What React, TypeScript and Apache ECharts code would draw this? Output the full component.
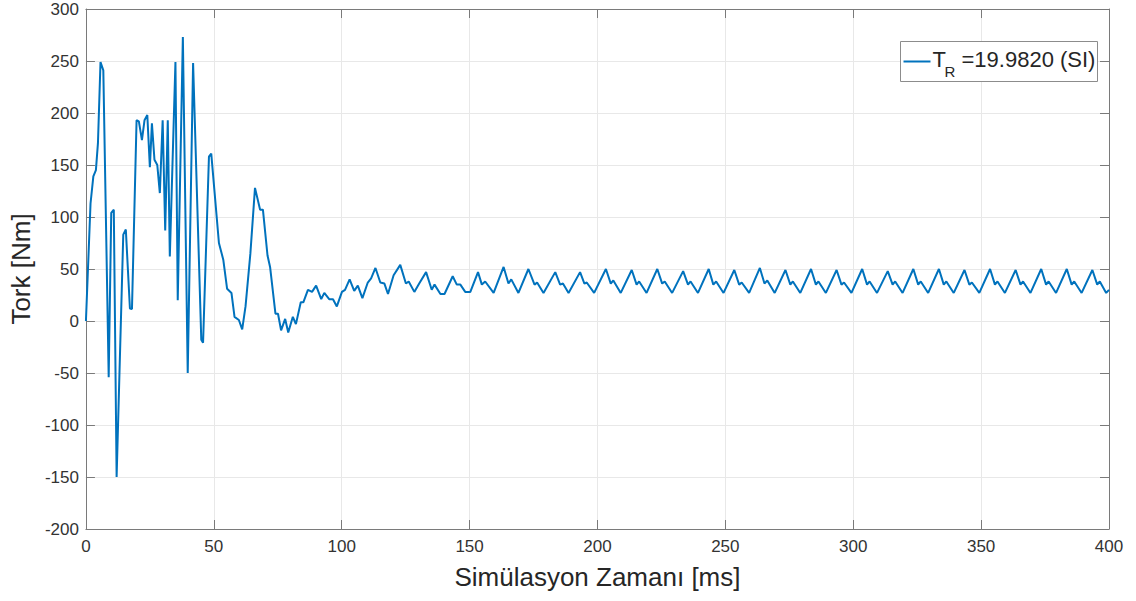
import React, { useEffect, useRef } from "react";
import * as echarts from "echarts";

// Torque trace, [time in ms, torque in Nm]
// Start-up transient (0 – 50 ms)
const startupSamples: [number, number][] = [
  [0, 0], [1.8, 113], [2.9, 139], [3.9, 145], [4.7, 171], [5.7, 249], [6.8, 241],
  [8.9, -54], [9.9, 104], [10.9, 107], [12.0, -150], [14.6, 83], [15.6, 88],
  [17.2, 12], [18.0, 11.5], [19.8, 193], [20.7, 192], [21.9, 174], [22.9, 193],
  [24.0, 198], [25.0, 148], [25.8, 190], [26.8, 155], [27.9, 150], [28.9, 123],
  [30.0, 193], [31.0, 87], [32.0, 193], [32.8, 62], [35.0, 249], [35.9, 20],
  [37.9, 273], [39.8, -50], [41.9, 248], [45.1, -18], [45.8, -21], [48.1, 158],
  [49.0, 161],
];

// Decay towards the running torque (50 – 140 ms)
const settlingSamples: [number, number][] = [
  [52.0, 75], [53.7, 59], [55.2, 31], [56.9, 27], [58.1, 4], [59.8, 1], [61.1, -8],
  [62.4, 14], [64.3, 65], [66.1, 128], [68.1, 107], [69.2, 107], [71.0, 63],
  [72.0, 52], [74.1, 7], [75.1, 7], [76.3, -9], [77.9, 2], [79.1, -11], [80.9, 4],
  [82.1, -3], [84.0, 18], [85.0, 18], [86.8, 30], [88.4, 28], [90.0, 34], [92.0, 21],
  [93.2, 27], [95.1, 21], [96.6, 21], [98.1, 14], [100.1, 28], [101.3, 30],
  [103.1, 40], [104.9, 29], [106.3, 34], [108.1, 22], [110.2, 37], [111.5, 41],
  [113.2, 51], [115.1, 37], [116.7, 36], [118.1, 26], [120.3, 44], [122.9, 54],
  [125.1, 36], [126.2, 38], [128.4, 28], [130.3, 36], [133.0, 47], [135.2, 30],
  [136.3, 35], [138.6, 26], [140.2, 26],
];

// Steady-state ripple (140 – 400 ms)
const steadySamples: [number, number][] = [
  [143.4, 43], [145.0, 35], [146.4, 35], [148.3, 28], [150.3, 28],
  [153.3, 47], [154.8, 35], [156.1, 38], [159.4, 27],
  [163.3, 52], [165.2, 36], [166.3, 40], [169.1, 27],
  [173.0, 50], [175.4, 35], [176.4, 37], [178.9, 27],
  [183.5, 47], [185.4, 35], [186.5, 36], [188.7, 27],
  [193.2, 47], [194.9, 36], [195.8, 37], [198.7, 27],
  [203.3, 50], [205.2, 36], [206.2, 39], [209.1, 27],
  [213.4, 49], [215.3, 35], [216.3, 38], [219.2, 27],
  [223.4, 50], [225.3, 36], [226.3, 38], [229.2, 27],
  [233.5, 48], [235.4, 35], [236.4, 38], [239.3, 27],
  [243.5, 50], [245.3, 35], [246.4, 38], [249.3, 27],
  [253.5, 49], [255.4, 35], [256.4, 37], [259.3, 27],
  [263.5, 51], [265.3, 36], [266.4, 39], [269.3, 27],
  [273.5, 49], [275.4, 35], [276.4, 38], [279.3, 27],
  [283.5, 50], [285.4, 35], [286.4, 38], [289.3, 27],
  [293.5, 49], [295.4, 35], [296.4, 37], [299.3, 27],
  [303.5, 50], [305.4, 35], [306.4, 38], [309.3, 27],
  [313.5, 48], [315.4, 35], [316.4, 38], [319.3, 27],
  [323.5, 50], [325.4, 35], [326.4, 38], [329.3, 27],
  [333.5, 50], [335.4, 35], [336.4, 38], [339.3, 27],
  [343.5, 49], [345.4, 35], [346.4, 37], [349.3, 27],
  [353.5, 50], [355.4, 35], [356.4, 38], [359.3, 27],
  [363.5, 49], [365.4, 35], [366.4, 38], [369.3, 27],
  [373.5, 50], [375.4, 35], [376.4, 38], [379.3, 27],
  [383.5, 50], [385.4, 35], [386.4, 38], [389.3, 27],
  [393.5, 49], [395.4, 35], [396.4, 38], [398.9, 27],
  [400.0, 30],
];

const xRange = { min: 0, max: 400, step: 50 };
const yRange = { min: -200, max: 300, step: 50 };

const seriesName = "TR=19.9820 (SI)";
const lineColor = "#0072BD";
const axisColor = "#7a7a7a";
const gridColor = "#e8e8e8";
const labelColor = "#333333";
const fontFamily = "'Liberation Sans', Arial, Helvetica, sans-serif";

export default function App() {
  const ref = useRef<HTMLDivElement>(null);

  useEffect(() => {
    if (!ref.current) return;
    const chart = echarts.init(ref.current, undefined, { renderer: "svg" });

    const samples = [...startupSamples, ...settlingSamples, ...steadySamples];

    const frameAxis = {
      type: "value" as const,
      min: xRange.min,
      max: xRange.max,
      interval: xRange.step,
      axisLine: { show: true, lineStyle: { color: axisColor, width: 1 } },
      axisTick: { show: true, inside: true, length: 9, lineStyle: { color: axisColor } },
      axisLabel: { show: false },
      splitLine: { show: false },
    };

    chart.setOption({
      animation: false,
      backgroundColor: "#ffffff",
      textStyle: { fontFamily },
      grid: { left: 85, right: 27, top: 9, bottom: 72, containLabel: false },
      xAxis: [
        {
          type: "value",
          min: xRange.min,
          max: xRange.max,
          interval: xRange.step,
          position: "bottom",
          name: "Simülasyon Zamanı [ms]",
          nameLocation: "middle",
          nameGap: 35,
          nameTextStyle: { fontSize: 26, color: "#262626", fontFamily },
          axisLine: { show: true, onZero: false, lineStyle: { color: axisColor, width: 1 } },
          axisTick: { show: true, inside: true, length: 9, lineStyle: { color: axisColor } },
          axisLabel: { fontSize: 17, color: labelColor, margin: 9, fontFamily },
          splitLine: { show: true, lineStyle: { color: gridColor, width: 1 } },
        },
        { ...frameAxis, position: "top", axisLine: { ...frameAxis.axisLine, onZero: false } },
      ],
      yAxis: [
        {
          type: "value",
          min: yRange.min,
          max: yRange.max,
          interval: yRange.step,
          position: "left",
          name: "Tork [Nm]",
          nameLocation: "middle",
          nameRotate: 90,
          nameGap: 47,
          nameTextStyle: { fontSize: 26, color: "#262626", fontFamily },
          axisLine: { show: true, onZero: false, lineStyle: { color: axisColor, width: 1 } },
          axisTick: { show: true, inside: true, length: 9, lineStyle: { color: axisColor } },
          axisLabel: { fontSize: 17, color: labelColor, margin: 7, fontFamily },
          splitLine: { show: true, lineStyle: { color: gridColor, width: 1 } },
        },
        {
          ...frameAxis,
          min: yRange.min,
          max: yRange.max,
          interval: yRange.step,
          position: "right",
          axisLine: { ...frameAxis.axisLine, onZero: false },
        },
      ],
      series: [
        {
          name: seriesName,
          type: "line",
          xAxisIndex: 0,
          yAxisIndex: 0,
          data: samples,
          showSymbol: false,
          symbol: "none",
          lineStyle: { color: lineColor, width: 2 },
          itemStyle: { color: lineColor },
        },
      ],
      graphic: [
        {
          type: "group",
          left: 900,
          top: 41,
          z: 100,
          children: [
            {
              type: "rect",
              z: 100,
              shape: { x: 0, y: 0, width: 197, height: 40 },
              style: { fill: "#ffffff", stroke: "#8c8c8c", lineWidth: 1 },
            },
            {
              type: "line",
              z: 101,
              shape: { x1: 3, y1: 20, x2: 30, y2: 20 },
              style: { stroke: lineColor, lineWidth: 2 },
            },
            {
              type: "text",
              z: 101,
              x: 32,
              y: 17.5,
              style: {
                text: "T",
                fontSize: 22,
                fontFamily,
                fill: "#262626",
                verticalAlign: "middle",
                align: "left",
              },
            },
            {
              type: "text",
              z: 101,
              x: 44,
              y: 30,
              style: {
                text: "R",
                fontSize: 15,
                fontFamily,
                fill: "#262626",
                verticalAlign: "middle",
                align: "left",
              },
            },
            {
              type: "text",
              z: 101,
              x: 61,
              y: 17.5,
              style: {
                text: "=19.9820 (SI)",
                fontSize: 22,
                fontFamily,
                fill: "#262626",
                verticalAlign: "middle",
                align: "left",
              },
            },
          ],
        },
      ],
    });

    return () => chart.dispose();
  }, []);

  return (
    <div
      ref={ref}
      style={{ position: "fixed", left: 0, top: 0, width: 1136, height: 601, background: "#fff" }}
    />
  );
}
